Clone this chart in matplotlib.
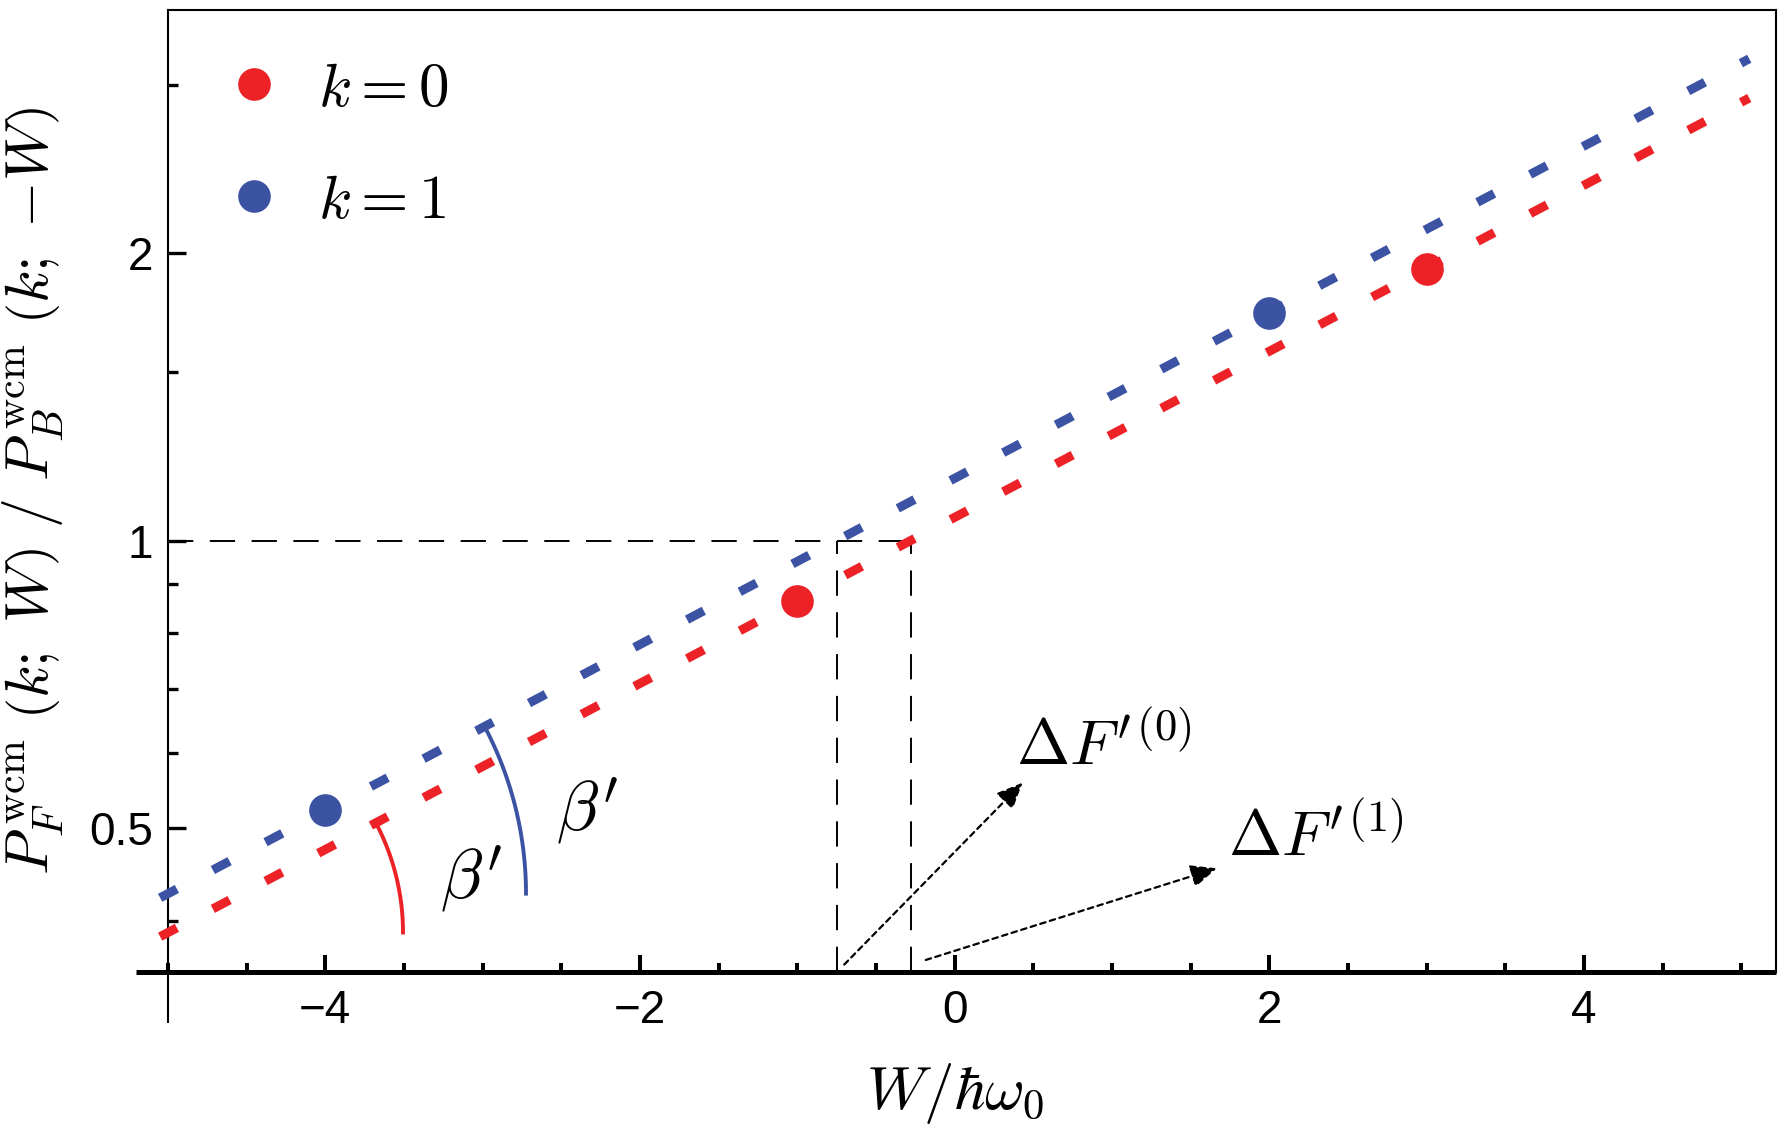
import matplotlib
matplotlib.use('Agg')
import matplotlib.pyplot as plt
import numpy as np
from matplotlib.ticker import FixedLocator, FixedFormatter, MultipleLocator, NullFormatter

plt.rcParams['mathtext.fontset'] = 'cm'
plt.rcParams['font.family'] = ['Liberation Sans', 'DejaVu Sans']

RED = '#EC2227'
BLUE = '#3C53A4'

# ---- data ----
w_line = [-5.05, 5.05]
ratio_k0_line = [0.385, 2.904]
ratio_k1_line = [0.4228, 3.192]

w_k0 = [-1.0, 3.0]
ratio_k0 = [0.865, 1.925]
w_k1 = [-4.0, 2.0]
ratio_k1 = [0.522, 1.731]

w_cross = [-0.75, -0.28]   # where each line reaches 1 (k=1, k=0)
w_arc = -5.0               # arcs are centred on the lines here

y_major = [0.5, 1, 2]
y_major_labels = ['0.5', '1', '2']
y_minor = [0.4, 0.6, 0.7, 0.8, 0.9, 1.5, 3]
x_major = [-4, -2, 0, 2, 4]

fig = plt.figure(figsize=(17.78, 11.28), dpi=100)
ax = fig.add_axes([168 / 1778, 1 - 972 / 1128, (1776 - 168) / 1778, (972 - 10) / 1128])
ax.set_yscale('log')
ax.set_xlim(-5, 5.22)
ax.set_ylim(0.3536, 3.59)
y_bot = ax.get_ylim()[0]

# theory lines
ax.plot(w_line, ratio_k1_line, color=BLUE, lw=6.5, dashes=(2.1, 4.5),
        dash_capstyle='butt', clip_on=False, zorder=3)
ax.plot(w_line, ratio_k0_line, color=RED, lw=6.5, dashes=(2.1, 4.5),
        dash_capstyle='butt', clip_on=False, zorder=3)

# points
ax.plot(w_k0, ratio_k0, 'o', color=RED, ms=23.5, mec='none', label='$k=0$', zorder=4)
ax.plot(w_k1, ratio_k1, 'o', color=BLUE, ms=23.5, mec='none', label='$k=1$', zorder=4)

# guide lines at ratio = 1
ax.plot([-5, w_cross[1]], [1, 1], color='k', lw=1.4, dashes=(13, 8.5))
for wc in w_cross:
    ax.plot([wc, wc], [y_bot, 1], color='k', lw=1.4, dashes=(13, 8.5))


# slope arcs, drawn in screen space around the point of each line at w_arc
def slope_arc(w, r, radius_px, color):
    p0, p1 = ax.transData.transform([(w[0], r[0]), (w[1], r[1])])
    ang = np.arctan2(p1[1] - p0[1], p1[0] - p0[0])
    cx = ax.transData.transform((w_arc, 1))[0]
    cy = p0[1] + (cx - p0[0]) * np.tan(ang)
    th = np.linspace(0, ang, 80)
    pts = np.column_stack([cx + radius_px * np.cos(th), cy + radius_px * np.sin(th)])
    d = ax.transData.inverted().transform(pts)
    ax.plot(d[:, 0], d[:, 1], color=color, lw=2.8, zorder=2)


slope_arc(w_line, ratio_k0_line, 235, RED)
slope_arc(w_line, ratio_k1_line, 358, BLUE)

ax.text(-3.274, 0.4219, r"$\beta'$", fontsize=50, va='baseline', ha='left')
ax.text(-2.537, 0.4968, r"$\beta'$", fontsize=50, va='baseline', ha='left')

# Delta F arrows
arrow_kw = dict(arrowstyle='-|>,head_length=0.8,head_width=0.35', mutation_scale=20,
                lw=1.6, ls=(0, (2.5, 2)), color='k', shrinkA=0, shrinkB=0)
ax.annotate('', xy=(0.432, 0.558), xytext=(-0.702, 0.360), arrowprops=arrow_kw)
ax.annotate('', xy=(1.666, 0.454), xytext=(-0.184, 0.364), arrowprops=arrow_kw)
ax.text(0.388, 0.582, r"$\Delta F'^{(0)}$", fontsize=46, va='baseline', ha='left')
ax.text(1.735, 0.468, r"$\Delta F'^{(1)}$", fontsize=46, va='baseline', ha='left')

# frame / axes look
for s in ['left', 'top', 'right']:
    ax.spines[s].set_linewidth(1.5)
ax.spines['bottom'].set_visible(False)
ax.plot([-0.02, 1.0], [0, 0], transform=ax.transAxes, color='k', lw=3.6,
        clip_on=False, solid_capstyle='butt', zorder=5)
ax.plot([0, 0], [-0.053, 0], transform=ax.transAxes, color='k', lw=1.5,
        clip_on=False, solid_capstyle='butt')

ax.yaxis.set_major_locator(FixedLocator(y_major))
ax.yaxis.set_major_formatter(FixedFormatter(y_major_labels))
ax.yaxis.set_minor_locator(FixedLocator(y_minor))
ax.yaxis.set_minor_formatter(NullFormatter())
ax.xaxis.set_major_locator(FixedLocator(x_major))
ax.xaxis.set_minor_locator(MultipleLocator(0.5))

ax.tick_params(axis='x', which='both', direction='in', top=False, width=2.9, labelsize=33, pad=12)
ax.tick_params(axis='x', which='major', length=12)
ax.tick_params(axis='x', which='minor', length=6.5)
ax.tick_params(axis='y', which='both', direction='in', right=False, width=2.4, labelsize=33, pad=11)
ax.tick_params(axis='y', which='major', length=13)
ax.tick_params(axis='y', which='minor', length=7)

ax.set_xlabel(r'$W/\hbar\omega_0$', fontsize=44)
ax.xaxis.set_label_coords(0.4894, -0.092)
ax.set_ylabel(r'$P_F^{\,\rm w c m}\ \left(k;\ W\right)\ /\ P_B^{\,\rm w c m}\ \left(k;\ {-W}\right)$',
              fontsize=43)
ax.yaxis.set_label_coords(-0.0634, 0.5)

ax.legend(loc='upper left', bbox_to_anchor=(0.0266, 0.972), frameon=False, fontsize=44,
          handlelength=0.6, handletextpad=0.75, borderaxespad=0, borderpad=0.408,
          labelspacing=0.9, numpoints=1)

fig.savefig('out.png', dpi=100)
